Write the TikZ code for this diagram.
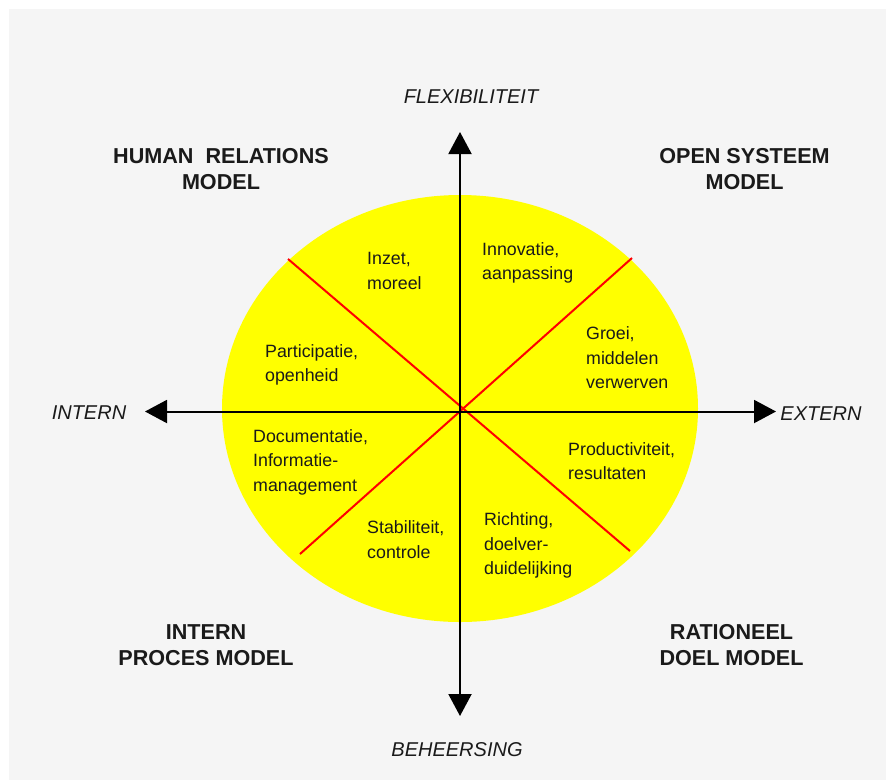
\documentclass[tikz,border=0pt]{standalone}
\usepackage{fontspec}
\setmainfont{Liberation Sans}
\usetikzlibrary{arrows.meta}
\definecolor{bggray}{HTML}{F5F5F5}
\definecolor{disc}{HTML}{FFFF00}
\definecolor{txt}{HTML}{1A1A1A}
\begin{document}
\begin{tikzpicture}[x=1pt,y=-1pt,
  axis/.style={line width=2pt, {Triangle[length=22pt,width=23pt]}-{Triangle[length=22pt,width=23pt]}},
  divider/.style={red, line width=2pt},
  inlabel/.style={font=\fontsize{17.8}{24.5}\selectfont, align=left, anchor=west, inner sep=0pt, text=txt},
  corner/.style={font=\bfseries\fontsize{21.6}{26}\selectfont, align=center, inner sep=0pt, text=txt},
  axlabel/.style={font=\itshape\fontsize{20}{23}\selectfont, inner sep=0pt, text=txt}]
\useasboundingbox (0,0) rectangle (886,780);
\fill[white] (0,0) rectangle (886,780);
\fill[bggray] (9,9) rectangle (886,780);
% disc
\fill[disc] (460,408.5) ellipse [x radius=238, y radius=213.5];
% dividers
\coordinate (ul) at (288,259);
\coordinate (lr) at (630,551);
\coordinate (ur) at (632,258);
\coordinate (ll) at (300,554);
\draw[divider] (ul) -- (lr);
\draw[divider] (ur) -- (ll);
% axes
\coordinate (top) at (460,132);
\coordinate (bot) at (460,716);
\coordinate (lft) at (145,411.5);
\coordinate (rgt) at (776,411.5);
\draw[axis] (bot) -- (top);
\draw[axis] (lft) -- (rgt);
% axis labels
\node[axlabel] (flex) at (471,97) {FLEXIBILITEIT};
\node[axlabel] (beh) at (457,750) {BEHEERSING};
\node[axlabel] (int) at (89,413) {INTERN};
\node[axlabel] (ext) at (821,414) {EXTERN};
% corner labels
\node[corner] (hr) at (221,169.5) {HUMAN\ \ RELATIONS\\MODEL};
\node[corner] (os) at (744.5,169.5) {OPEN SYSTEEM\\MODEL};
\node[corner] (ip) at (206,645) {INTERN\\PROCES MODEL};
\node[corner] (rd) at (731.5,645) {RATIONEEL\\DOEL MODEL};
% sector texts
\node[inlabel] (inz) at (367,271) {Inzet,\\moreel};
\node[inlabel] (inn) at (482,263) {Innovatie,\\aanpassing};
\node[inlabel] (gro) at (586,358) {Groei,\\middelen\\verwerven};
\node[inlabel] (par) at (265,365) {Participatie,\\openheid};
\node[inlabel] (doc) at (253,462) {Documentatie,\\Informatie-\\management};
\node[inlabel] (sta) at (367,539.5) {Stabiliteit,\\controle};
\node[inlabel] (ric) at (484,545.5) {Richting,\\doelver-\\duidelijking};
\node[inlabel] (pro) at (568,461) {Productiviteit,\\resultaten};
\end{tikzpicture}
\end{document}
